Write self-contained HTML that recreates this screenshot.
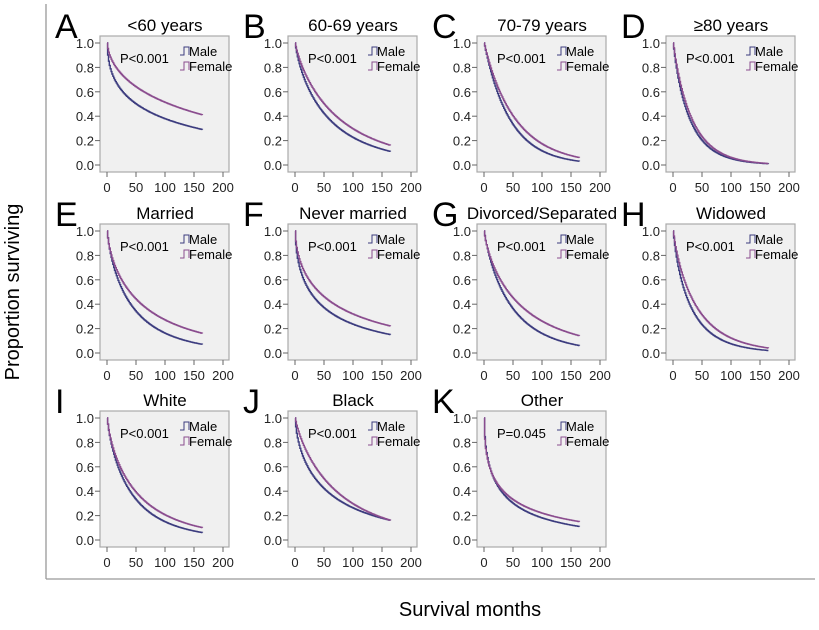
<!DOCTYPE html>
<html><head><meta charset="utf-8"><style>
body{margin:0;background:#fff;}
svg{display:block;font-family:"Liberation Sans",sans-serif;}
</style></head><body>
<svg id="s" width="819" height="630" viewBox="0 0 819 630" xmlns="http://www.w3.org/2000/svg">
<line x1="46" y1="4" x2="46" y2="579" stroke="#999" stroke-width="1.3"/>
<line x1="46" y1="579" x2="815" y2="579" stroke="#999" stroke-width="1.3"/>
<text x="19" y="292" font-size="20" text-anchor="middle" transform="rotate(-90 19 292)">Proportion surviving</text>
<text x="470" y="616" font-size="20" text-anchor="middle">Survival months</text>
</svg>
<script>
const s=document.getElementById('s');
const NS='http://www.w3.org/2000/svg';
function el(t,a,txt){const e=document.createElementNS(NS,t);for(const k in a)e.setAttribute(k,a[k]);if(txt!==undefined)e.textContent=txt;s.appendChild(e);return e;}
const P=[
['A','<60 years','P<0.001',[.50,.29],[.64,.41]],
['B','60-69 years','P<0.001',[.42,.11],[.50,.16]],
['C','70-79 years','P<0.001',[.33,.03],[.40,.06]],
['D','≥80 years','P<0.001',[.20,.01],[.23,.012]],
['E','Married','P<0.001',[.34,.07],[.44,.16]],
['F','Never married','P<0.001',[.37,.15],[.46,.22]],
['G','Divorced/Separated','P<0.001',[.36,.06],[.45,.14]],
['H','Widowed','P<0.001',[.23,.02],[.31,.04]],
['I','White','P<0.001',[.33,.06],[.39,.10]],
['J','Black','P<0.001',[.42,.16],[.50,.16]],
['K','Other','P=0.045',[.30,.11],[.33,.15]]];
const cols=[100,288,477,666],rows=[36,224,411];
P.forEach((p,i)=>{
 const bx=cols[i%4],by=rows[Math.floor(i/4)],W=129,H=136;
 el('rect',{x:bx,y:by,width:W,height:H,fill:'#f0f0f0',stroke:'#aaa','stroke-width':1.2});
 const X=t=>bx+7+t*0.58,Y=v=>by+7+(1-v)*122;
 for(let k=0;k<=5;k++){const v=k/5,y=Y(v);el('line',{x1:bx-5,y1:y,x2:bx,y2:y,stroke:'#666'});
  el('text',{x:bx-6,y:y+5,'font-size':13,'text-anchor':'end',fill:'#222'},v.toFixed(1));}
 for(let k=0;k<=4;k++){const t=k*50,x=X(t);el('line',{x1:x,y1:by+H,x2:x,y2:by+H+5,stroke:'#666'});
  el('text',{x:x,y:by+H+20,'font-size':13,'text-anchor':'middle',fill:'#222'},String(t));}
 el('text',{x:bx-45,y:by+2,'font-size':34,fill:'#000'},p[0]);
 el('text',{x:bx+65,y:by-5,'font-size':17,'text-anchor':'middle',fill:'#000'},p[1]);
 el('text',{x:bx+20,y:by+27,'font-size':13,fill:'#000'},p[2]);
 [[p[3],'#3b3b7e','Male',by+19],[p[4],'#8a4c8e','Female',by+34]].forEach(c=>{
  const [a,b]=c[0];const g=Math.log(Math.log(b)/Math.log(a))/Math.log(165/50);const k=-Math.log(a)/Math.pow(50,g);
  let d='M'+X(0)+' '+Y(1);
  for(let t=1;t<=165;t+=1.5){let v=Math.exp(-k*Math.pow(t,g));d+=' H'+X(t).toFixed(1)+' V'+Y(v).toFixed(1);}
  el('path',{d:d,fill:'none',stroke:c[1],'stroke-width':1.4});
  const lx=bx+80,ly=c[3];
  el('path',{d:`M${lx} ${ly} h4 v-8 h5 v8`,fill:'none',stroke:c[1],'stroke-width':1});
  el('text',{x:lx+9,y:ly+1,'font-size':13,fill:'#000'},c[2]);
 });
});
</script>
</body></html>
